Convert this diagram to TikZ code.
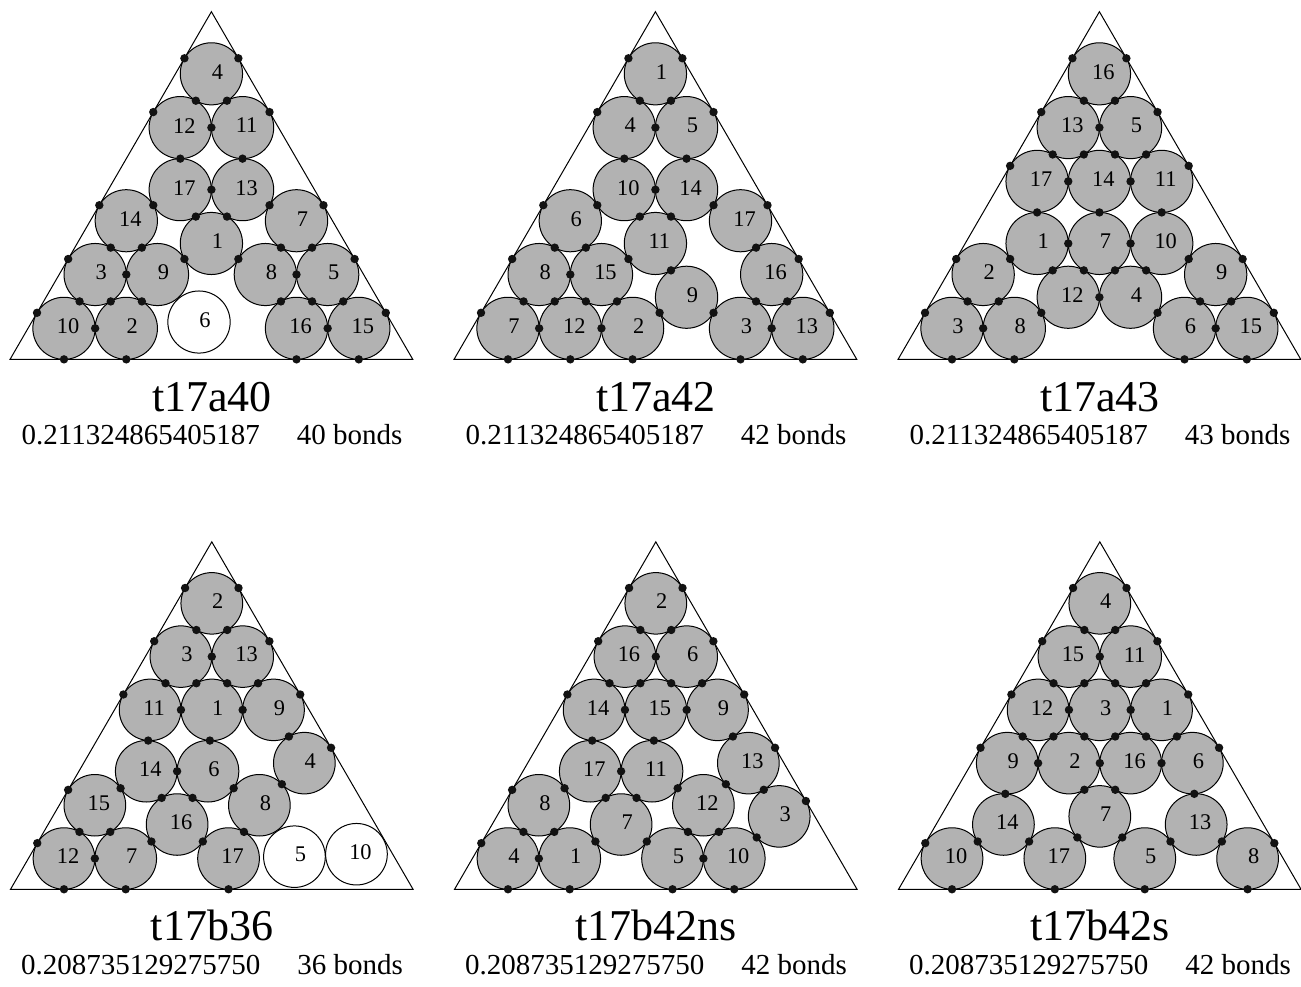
\documentclass[tikz,border=0pt]{standalone}
\usepackage{fontspec}
\setmainfont{Liberation Serif}
\usetikzlibrary{calc}
\definecolor{diskgray}{gray}{0.7}
\definecolor{dotcol}{gray}{0.07}
\tikzset{
  ballshape/.style={draw=black, line width=0.5pt, fill=diskgray},
  rattlershape/.style={draw=black, line width=0.5pt, fill=white},
  balllabel/.style={font=\fontsize{11.2}{13}\selectfont, inner sep=0pt},
  frameline/.style={draw=black, line width=0.5pt, line join=miter},
  contact/.style={fill=dotcol},
  titletext/.style={font=\fontsize{22}{26}\selectfont, anchor=base, inner sep=0pt},
  subtext/.style={font=\fontsize{14.5}{17}\selectfont, anchor=base, inner sep=0pt},
  rowa/.style={x=31.15pt, y=31.05pt},
  rowb/.style={x=30.85pt, y=30.75pt},
}
\newcommand\pkball[3]{\coordinate (#1) at (#2);
  \path[ballshape] (#1) circle[radius=0.5];
  \ifnum#3>9 \def\pkdx{2pt}\else\def\pkdx{3pt}\fi
  \node[balllabel] (#1t) at ([xshift=\pkdx,yshift=1pt]#1) {#3};}
\newcommand\pkrattle[3]{\coordinate (#1) at (#2);
  \path[rattlershape] (#1) circle[radius=0.5];
  \ifnum#3>9 \def\pkdx{2pt}\else\def\pkdx{3pt}\fi
  \node[balllabel] (#1t) at ([xshift=\pkdx,yshift=1pt]#1) {#3};}
\newcommand\pkbond[2]{\fill[contact] ($(#1)!0.5!(#2)$) circle[radius=2.1pt];}
\newcommand\pkwl[1]{\fill[contact] ($(#1)+(-0.4330127,0.25)$) circle[radius=2.1pt];}
\newcommand\pkwr[1]{\fill[contact] ($(#1)+(0.4330127,0.25)$) circle[radius=2.1pt];}
\newcommand\pkwb[1]{\fill[contact] ($(#1)+(0,-0.5)$) circle[radius=2.1pt];}
\newcommand\pkframe[2]{%
  \coordinate (#1bl) at (-0.8660254,-0.5);
  \coordinate (#1br) at ({#2+0.8660254},-0.5);
  \coordinate (#1ap) at ({#2/2},{#2*0.8660254+1});
  \draw[frameline] (#1bl) -- (#1br) -- (#1ap) -- cycle;}
\begin{document}
\begin{tikzpicture}[x=0.5pt,y=-0.5pt]
\useasboundingbox[fill=white] (0,0) rectangle (1301,986);

% ---------- t17a40 ----------
\begin{scope}[shift={(64,328.3)}]
\begin{scope}[rowa]
\pkframe{A}{4.732051}
\pkball{A10}{0,0}{10}
\pkball{A2}{1,0}{2}
\pkrattle{A6}{2.167,0.101}{6}
\pkball{A16}{3.732051,0}{16}
\pkball{A15}{4.732051,0}{15}
\pkball{A3}{0.5,0.866025}{3}
\pkball{A9}{1.5,0.866025}{9}
\pkball{A8}{3.232051,0.866025}{8}
\pkball{A5}{4.232051,0.866025}{5}
\pkball{A14}{1,1.732051}{14}
\pkball{A7}{3.732051,1.732051}{7}
\pkball{A1}{2.366025,1.366025}{1}
\pkball{A17}{1.866025,2.232051}{17}
\pkball{A13}{2.866025,2.232051}{13}
\pkball{A12}{1.866025,3.232051}{12}
\pkball{A11}{2.866025,3.232051}{11}
\pkball{A4}{2.366025,4.098076}{4}
\pkwl{A4}\pkwr{A4}\pkbond{A4}{A12}\pkbond{A4}{A11}\pkwl{A12}\pkwr{A11}
\pkbond{A12}{A11}\pkbond{A12}{A17}\pkbond{A11}{A13}\pkbond{A17}{A13}
\pkbond{A17}{A14}\pkbond{A13}{A7}\pkwl{A14}\pkwr{A7}\pkbond{A17}{A1}
\pkbond{A13}{A1}\pkbond{A14}{A3}\pkbond{A14}{A9}\pkbond{A7}{A8}\pkbond{A7}{A5}
\pkwl{A3}\pkwr{A5}\pkbond{A9}{A1}\pkbond{A1}{A8}\pkbond{A3}{A9}\pkbond{A8}{A5}
\pkbond{A3}{A10}\pkbond{A3}{A2}\pkbond{A9}{A2}\pkbond{A8}{A16}\pkbond{A5}{A16}
\pkbond{A5}{A15}\pkwl{A10}\pkwr{A15}\pkbond{A10}{A2}\pkbond{A16}{A15}
\pkwb{A10}\pkwb{A2}\pkwb{A16}\pkwb{A15}
\end{scope}
\end{scope}

% ---------- t17a42 ----------
\begin{scope}[shift={(508,328.3)}]
\begin{scope}[rowa]
\pkframe{B}{4.732051}
\pkball{B7}{0,0}{7}
\pkball{B12}{1,0}{12}
\pkball{B2}{2,0}{2}
\pkball{B3}{3.732051,0}{3}
\pkball{B13}{4.732051,0}{13}
\pkball{B8}{0.5,0.866025}{8}
\pkball{B15}{1.5,0.866025}{15}
\pkball{B16}{4.232051,0.866025}{16}
\pkball{B9}{2.866025,0.5}{9}
\pkball{B6}{1,1.732051}{6}
\pkball{B17}{3.732051,1.732051}{17}
\pkball{B11}{2.366025,1.366025}{11}
\pkball{B10}{1.866025,2.232051}{10}
\pkball{B14}{2.866025,2.232051}{14}
\pkball{B4}{1.866025,3.232051}{4}
\pkball{B5}{2.866025,3.232051}{5}
\pkball{B1}{2.366025,4.098076}{1}
\pkwl{B1}\pkwr{B1}\pkbond{B1}{B4}\pkbond{B1}{B5}\pkwl{B4}\pkwr{B5}
\pkbond{B4}{B5}\pkbond{B4}{B10}\pkbond{B5}{B14}\pkbond{B10}{B14}
\pkbond{B10}{B6}\pkbond{B14}{B17}\pkwl{B6}\pkwr{B17}\pkbond{B10}{B11}
\pkbond{B14}{B11}\pkbond{B6}{B8}\pkbond{B6}{B15}\pkwl{B8}\pkbond{B11}{B15}
\pkbond{B17}{B16}\pkwr{B16}\pkbond{B11}{B9}\pkbond{B8}{B15}\pkbond{B8}{B7}
\pkbond{B8}{B12}\pkbond{B15}{B12}\pkbond{B15}{B2}\pkbond{B16}{B3}\pkbond{B16}{B13}
\pkwl{B7}\pkbond{B2}{B9}\pkbond{B9}{B3}\pkwr{B13}\pkbond{B7}{B12}\pkbond{B12}{B2}
\pkbond{B3}{B13}\pkwb{B7}\pkwb{B12}\pkwb{B2}\pkwb{B3}\pkwb{B13}
\end{scope}
\end{scope}

% ---------- t17a43 ----------
\begin{scope}[shift={(952,328.3)}]
\begin{scope}[rowa]
\pkframe{C}{4.732051}
\pkball{C16}{2.366025,4.098076}{16}
\pkball{C13}{1.866025,3.232051}{13}
\pkball{C5}{2.866025,3.232051}{5}
\pkball{C17}{1.366025,2.366025}{17}
\pkball{C14}{2.366025,2.366025}{14}
\pkball{C11}{3.366025,2.366025}{11}
\pkball{C1}{1.366025,1.366025}{1}
\pkball{C7}{2.366025,1.366025}{7}
\pkball{C10}{3.366025,1.366025}{10}
\pkball{C12}{1.866025,0.5}{12}
\pkball{C4}{2.866025,0.5}{4}
\pkball{C2}{0.5,0.866025}{2}
\pkball{C3}{0,0}{3}
\pkball{C8}{1,0}{8}
\pkball{C9}{4.232051,0.866025}{9}
\pkball{C6}{3.732051,0}{6}
\pkball{C15}{4.732051,0}{15}
\pkwl{C16}\pkwr{C16}\pkbond{C16}{C13}\pkbond{C16}{C5}\pkwl{C13}\pkwr{C5}
\pkbond{C13}{C5}\pkbond{C13}{C17}\pkbond{C13}{C14}\pkbond{C5}{C14}\pkbond{C5}{C11}
\pkwl{C17}\pkwr{C11}\pkbond{C17}{C14}\pkbond{C14}{C11}\pkbond{C17}{C1}
\pkbond{C14}{C7}\pkbond{C11}{C10}\pkbond{C1}{C7}\pkbond{C7}{C10}\pkbond{C1}{C2}
\pkwl{C2}\pkbond{C10}{C9}\pkwr{C9}\pkbond{C1}{C12}\pkbond{C7}{C12}\pkbond{C7}{C4}
\pkbond{C10}{C4}\pkbond{C12}{C4}\pkbond{C2}{C3}\pkbond{C2}{C8}\pkbond{C9}{C6}
\pkbond{C9}{C15}\pkwl{C3}\pkbond{C8}{C12}\pkbond{C4}{C6}\pkwr{C15}\pkbond{C3}{C8}
\pkbond{C6}{C15}\pkwb{C3}\pkwb{C8}\pkwb{C6}\pkwb{C15}
\end{scope}
\end{scope}

% ---------- t17b36 ----------
\begin{scope}[shift={(64,858.5)}]
\begin{scope}[rowb]
\pkframe{D}{4.790766}
\pkball{D2}{2.395383,4.148924}{2}
\pkball{D3}{1.895383,3.282899}{3}
\pkball{D13}{2.895383,3.282899}{13}
\pkball{D11}{1.395383,2.416873}{11}
\pkball{D1}{2.395383,2.416873}{1}
\pkball{D9}{3.395383,2.416873}{9}
\pkball{D14}{1.333333,1.418803}{14}
\pkball{D6}{2.333333,1.418803}{6}
\pkball{D16}{1.833333,0.552778}{16}
\pkball{D17}{2.666667,0}{17}
\pkball{D8}{3.166667,0.866025}{8}
\pkball{D4}{3.895383,1.550848}{4}
\pkball{D15}{0.5,0.866025}{15}
\pkball{D12}{0,0}{12}
\pkball{D7}{1,0}{7}
\pkrattle{D5}{3.735,0.03}{5}
\pkrattle{D10}{4.74,0.07}{10}
\pkwl{D2}\pkwr{D2}\pkbond{D2}{D3}\pkbond{D2}{D13}\pkwl{D3}\pkwr{D13}
\pkbond{D3}{D13}\pkbond{D3}{D11}\pkbond{D3}{D1}\pkbond{D13}{D1}\pkbond{D13}{D9}
\pkwl{D11}\pkwr{D9}\pkbond{D11}{D1}\pkbond{D1}{D9}\pkbond{D11}{D14}\pkbond{D1}{D6}
\pkbond{D9}{D4}\pkwr{D4}\pkbond{D14}{D6}\pkbond{D14}{D15}\pkbond{D6}{D8}
\pkbond{D4}{D8}\pkwl{D15}\pkbond{D14}{D16}\pkbond{D6}{D16}\pkbond{D15}{D12}
\pkbond{D15}{D7}\pkbond{D8}{D17}\pkwl{D12}\pkbond{D16}{D7}\pkbond{D16}{D17}
\pkbond{D12}{D7}\pkwb{D12}\pkwb{D7}\pkwb{D17}
\end{scope}
\end{scope}

% ---------- t17b42ns ----------
\begin{scope}[shift={(508,858.5)}]
\begin{scope}[rowb]
\pkframe{E}{4.790766}
\pkball{E2}{2.395383,4.148924}{2}
\pkball{E16}{1.895383,3.282899}{16}
\pkball{E6}{2.895383,3.282899}{6}
\pkball{E14}{1.395383,2.416873}{14}
\pkball{E15}{2.395383,2.416873}{15}
\pkball{E9}{3.395383,2.416873}{9}
\pkball{E17}{1.333333,1.418803}{17}
\pkball{E11}{2.333333,1.418803}{11}
\pkball{E7}{1.833333,0.552778}{7}
\pkball{E5}{2.666667,0}{5}
\pkball{E12}{3.166667,0.866025}{12}
\pkball{E13}{3.895383,1.550848}{13}
\pkball{E3}{4.395383,0.684823}{3}
\pkball{E10}{3.666667,0}{10}
\pkball{E8}{0.5,0.866025}{8}
\pkball{E4}{0,0}{4}
\pkball{E1}{1,0}{1}
\pkwl{E2}\pkwr{E2}\pkbond{E2}{E16}\pkbond{E2}{E6}\pkwl{E16}\pkwr{E6}
\pkbond{E16}{E6}\pkbond{E16}{E14}\pkbond{E16}{E15}\pkbond{E6}{E15}\pkbond{E6}{E9}
\pkwl{E14}\pkwr{E9}\pkbond{E14}{E15}\pkbond{E15}{E9}\pkbond{E14}{E17}
\pkbond{E15}{E11}\pkbond{E9}{E13}\pkwr{E13}\pkbond{E17}{E11}\pkbond{E17}{E8}
\pkwl{E8}\pkbond{E11}{E12}\pkbond{E12}{E13}\pkbond{E13}{E3}\pkbond{E17}{E7}
\pkbond{E11}{E7}\pkwr{E3}\pkbond{E8}{E4}\pkbond{E8}{E1}\pkbond{E12}{E5}
\pkbond{E12}{E10}\pkbond{E10}{E3}\pkwl{E4}\pkbond{E1}{E7}\pkbond{E7}{E5}
\pkbond{E4}{E1}\pkbond{E5}{E10}\pkwb{E4}\pkwb{E1}\pkwb{E5}\pkwb{E10}
\end{scope}
\end{scope}

% ---------- t17b42s ----------
\begin{scope}[shift={(952,858.5)}]
\begin{scope}[rowb]
\pkframe{F}{4.790766}
\pkball{F4}{2.395383,4.148924}{4}
\pkball{F15}{1.895383,3.282899}{15}
\pkball{F11}{2.895383,3.282899}{11}
\pkball{F12}{1.395383,2.416873}{12}
\pkball{F3}{2.395383,2.416873}{3}
\pkball{F1}{3.395383,2.416873}{1}
\pkball{F9}{0.895383,1.550848}{9}
\pkball{F2}{1.895383,1.550848}{2}
\pkball{F16}{2.895383,1.550848}{16}
\pkball{F6}{3.895383,1.550848}{6}
\pkball{F7}{2.395383,0.684823}{7}
\pkball{F14}{0.833333,0.552778}{14}
\pkball{F13}{3.957433,0.552778}{13}
\pkball{F10}{0,0}{10}
\pkball{F17}{1.666667,0}{17}
\pkball{F5}{3.124099,0}{5}
\pkball{F8}{4.790766,0}{8}
\pkwl{F4}\pkwr{F4}\pkbond{F4}{F15}\pkbond{F4}{F11}\pkwl{F15}\pkwr{F11}
\pkbond{F15}{F11}\pkbond{F15}{F12}\pkbond{F15}{F3}\pkbond{F11}{F3}\pkbond{F11}{F1}
\pkwl{F12}\pkwr{F1}\pkbond{F12}{F3}\pkbond{F3}{F1}\pkbond{F12}{F9}\pkbond{F12}{F2}
\pkbond{F3}{F2}\pkbond{F3}{F16}\pkbond{F1}{F16}\pkbond{F1}{F6}\pkwl{F9}\pkwr{F6}
\pkbond{F9}{F2}\pkbond{F2}{F16}\pkbond{F16}{F6}\pkbond{F9}{F14}\pkbond{F2}{F7}
\pkbond{F16}{F7}\pkbond{F6}{F13}\pkbond{F14}{F10}\pkbond{F14}{F17}\pkbond{F7}{F17}
\pkbond{F7}{F5}\pkbond{F13}{F5}\pkbond{F13}{F8}\pkwl{F10}\pkwr{F8}
\pkwb{F10}\pkwb{F17}\pkwb{F5}\pkwb{F8}
\end{scope}
\end{scope}

% ---------- captions ----------
\node[titletext] (tA) at (212,411.7) {t17a40};
\node[subtext] (sA) at (212,444) {0.211324865405187\hspace{18.5pt}40 bonds};
\node[titletext] (tB) at (656,411.7) {t17a42};
\node[subtext] (sB) at (656,444) {0.211324865405187\hspace{18.5pt}42 bonds};
\node[titletext] (tC) at (1100,411.7) {t17a43};
\node[subtext] (sC) at (1100,444) {0.211324865405187\hspace{18.5pt}43 bonds};
\node[titletext] (tD) at (212,940.5) {t17b36};
\node[subtext] (sD) at (212,974) {0.208735129275750\hspace{18.5pt}36 bonds};
\node[titletext] (tE) at (656,940.5) {t17b42ns};
\node[subtext] (sE) at (656,974) {0.208735129275750\hspace{18.5pt}42 bonds};
\node[titletext] (tF) at (1100,940.5) {t17b42s};
\node[subtext] (sF) at (1100,974) {0.208735129275750\hspace{18.5pt}42 bonds};
\end{tikzpicture}
\end{document}
